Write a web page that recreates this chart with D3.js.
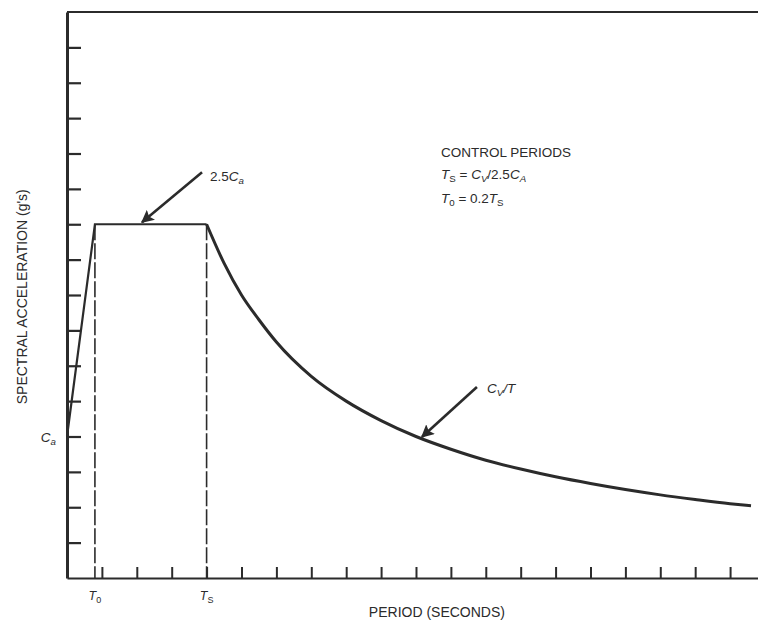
<!DOCTYPE html>
<html>
<head>
<meta charset="utf-8">
<script src="https://cdn.jsdelivr.net/npm/d3@7"></script>
<style>
  html, body { margin: 0; padding: 0; background: #fff; }
  svg { display: block; }
  text { font-family: "Liberation Sans", Arial, sans-serif; fill: #2b2b2b; }
</style>
</head>
<body>
<svg id="chart" width="758" height="625"></svg>
<script>
// ---------------- data ----------------
const Ca = 4;             // spectral acceleration at T = 0
const plateau = 10;       // 2.5 Ca
const T0 = 0.8;           // T0 = 0.2 Ts
const Ts = 4;             // Ts = Cv / 2.5Ca
// rising branch + plateau
const rampT  = [0, T0, Ts];
const rampSA = [Ca, plateau, plateau];
// descending branch Cv/T
const decayT  = [4, 4.5, 5, 5.5, 6, 7, 8, 9, 10, 11, 12, 13, 14, 15, 16, 17, 18, 19, 19.6];
const decaySA = [10, 8.9, 8.0, 7.3, 6.67, 5.7, 5.0, 4.45, 4.0, 3.64, 3.33, 3.08, 2.86, 2.67, 2.5, 2.35, 2.22, 2.1, 2.04];
// tick positions (unlabelled)
const xTicks = [1,2,3,4,5,6,7,8,9,10,11,12,13,14,15,16,17,18,19];
const yTicks = [1,2,3,4,5,6,7,8,9,10,11,12,13,14,15];
// annotation targets (data space)
const annoT  = [2.15, 10.17];
const annoSA = [10, 3.93];

// ---------------- layout ----------------
const svg = d3.select("#chart");
const x = d3.scaleLinear().domain([0, 19.8]).range([67, 758]);
const y = d3.scaleLinear().domain([0, 16]).range([578, 12]);
const ink = "#2b2b2b";

// top border
svg.append("line")
  .attr("x1", x(0)).attr("x2", x(19.8))
  .attr("y1", y(16)).attr("y2", y(16))
  .attr("stroke", ink).attr("stroke-width", 2);

// x axis
const gx = svg.append("g").attr("transform", `translate(0,${y(0)})`)
  .call(d3.axisBottom(x).tickValues(xTicks).tickSize(-11).tickSizeOuter(0).tickFormat(""));
gx.select(".domain").attr("stroke", ink).attr("stroke-width", 2);
gx.selectAll(".tick line").attr("stroke", ink).attr("stroke-width", 2);

// y axis
const gy = svg.append("g").attr("transform", `translate(${x(0)},0)`)
  .call(d3.axisLeft(y).tickValues(yTicks).tickSize(-14).tickSizeOuter(0).tickFormat(""));
gy.select(".domain").attr("stroke", ink).attr("stroke-width", 3);
gy.selectAll(".tick line").attr("stroke", ink).attr("stroke-width", 2.2);

// dashed verticals at T0 and Ts
svg.selectAll(".vdash").data([T0, Ts]).enter().append("line")
  .attr("x1", d => x(d)).attr("x2", d => x(d))
  .attr("y1", y(plateau)).attr("y2", y(0))
  .attr("stroke", ink).attr("stroke-width", 1.6)
  .attr("stroke-dasharray", "16,3");

// spectrum: ramp + plateau
const lineLin = d3.line().x((d, i) => x(rampT[i])).y((d, i) => y(rampSA[i]));
svg.append("path").datum(rampT)
  .attr("d", lineLin).attr("fill", "none")
  .attr("stroke", ink).attr("stroke-width", 2.2).attr("stroke-linejoin", "miter");

// spectrum: decay
const lineCurve = d3.line().curve(d3.curveMonotoneX)
  .x((d, i) => x(decayT[i])).y((d, i) => y(decaySA[i]));
svg.append("path").datum(decayT)
  .attr("d", lineCurve).attr("fill", "none")
  .attr("stroke", ink).attr("stroke-width", 3);

// arrow marker
svg.append("defs").append("marker")
  .attr("id", "arr").attr("viewBox", "0 0 10 10")
  .attr("refX", 9).attr("refY", 5)
  .attr("markerWidth", 5).attr("markerHeight", 5)
  .attr("markerUnits", "strokeWidth")
  .attr("orient", "auto")
  .append("path").attr("d", "M0,0 L10,5 L0,10 L2,5 Z").attr("fill", ink);

const arrowOff = [[60, -52], [55, -52]];
svg.selectAll(".arrow").data(annoT).enter().append("line")
  .attr("x1", (d, i) => x(d) + arrowOff[i][0])
  .attr("y1", (d, i) => y(annoSA[i]) + arrowOff[i][1])
  .attr("x2", d => x(d))
  .attr("y2", (d, i) => y(annoSA[i]) - 2)
  .attr("stroke", ink).attr("stroke-width", 2.6)
  .attr("marker-end", "url(#arr)");

// rich text helper
function rich(xp, yp, parts, size, anchor) {
  const t = svg.append("text").attr("x", xp).attr("y", yp)
    .attr("font-size", size).attr("text-anchor", anchor || "start");
  parts.forEach(p => {
    const s = t.append("tspan").text(p.t);
    if (p.i) s.attr("font-style", "italic");
    if (p.sub) s.attr("baseline-shift", "-30%").attr("font-size", size * 0.72);
  });
  return t;
}

// annotation labels
rich(x(annoT[0]) + arrowOff[0][0] + 8, y(annoSA[0]) + arrowOff[0][1] + 9,
  [{t: "2.5"}, {t: "C", i: 1}, {t: "a", i: 1, sub: 1}], 13.5);
rich(x(annoT[1]) + arrowOff[1][0] + 10, y(annoSA[1]) + arrowOff[1][1] + 6,
  [{t: "C", i: 1}, {t: "V", i: 1, sub: 1}, {t: "/", i: 1}, {t: "T", i: 1}], 13.5);

// control periods block
rich(441, 157, [{t: "CONTROL PERIODS"}], 13.5);
rich(441, 179, [{t: "T", i: 1}, {t: "S", sub: 1}, {t: " = "}, {t: "C", i: 1}, {t: "V", i: 1, sub: 1},
  {t: "/2.5"}, {t: "C", i: 1}, {t: "A", i: 1, sub: 1}], 13.5);
rich(441, 203, [{t: "T", i: 1}, {t: "0", sub: 1}, {t: " = 0.2"}, {t: "T", i: 1}, {t: "S", sub: 1}], 13.5);

// tick labels
rich(x(T0), 600, [{t: "T", i: 1}, {t: "0", sub: 1}], 12.5, "middle");
rich(x(Ts), 600, [{t: "T", i: 1}, {t: "S", sub: 1}], 12.5, "middle");
rich(x(0) - 11, y(Ca) + 5, [{t: "C", i: 1}, {t: "a", i: 1, sub: 1}], 13.5, "end");

// axis titles
svg.append("text")
  .attr("x", x(10.6)).attr("y", 617)
  .attr("text-anchor", "middle").attr("font-size", 14)
  .text("PERIOD (SECONDS)");
svg.append("text")
  .attr("transform", `translate(27,${y(7.95)}) rotate(-90)`)
  .attr("text-anchor", "middle").attr("font-size", 14)
  .text("SPECTRAL ACCELERATION (g's)");
</script>
</body>
</html>
